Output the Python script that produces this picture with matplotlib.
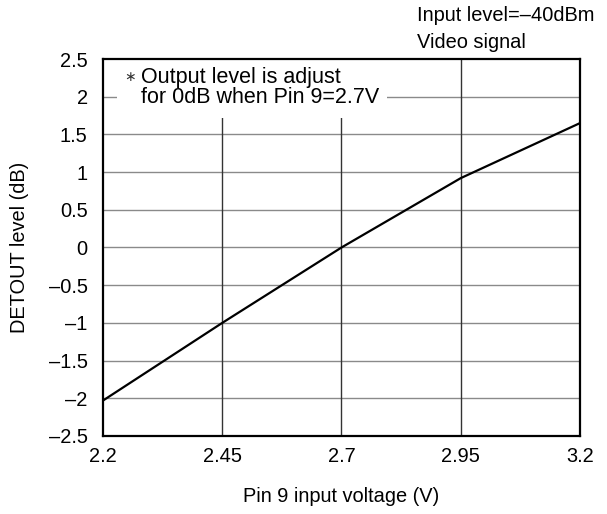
import numpy as np
import matplotlib.pyplot as plt
from matplotlib.patches import Rectangle

plt.rcParams['font.family'] = ['Liberation Sans', 'DejaVu Sans']
plt.rcParams['font.size'] = 14.4

# data
voltage = [2.2, 2.45, 2.7, 2.95, 3.2]
detout = [-2.03, -1.0, 0.0, 0.92, 1.65]

x_ticks = [2.2, 2.45, 2.7, 2.95, 3.2]
x_labels = ['2.2', '2.45', '2.7', '2.95', '3.2']
y_ticks = [2.5, 2, 1.5, 1, 0.5, 0, -0.5, -1, -1.5, -2, -2.5]
y_labels = ['2.5', '2', '1.5', '1', '0.5', '0', '–0.5', '–1', '–1.5', '–2', '–2.5']

fig = plt.figure(figsize=(6.07, 5.14), dpi=100)
ax = fig.add_axes([0.1697, 0.1518, 0.7858, 0.7334])

# grid
for y in y_ticks[1:-1]:
    ax.axhline(y, color='#8a8a8a', lw=1.0, zorder=1)
for x in x_ticks[1:-1]:
    ax.axvline(x, color='#333333', lw=1.0, zorder=1)

ax.plot(voltage, detout, color='black', lw=1.6, zorder=3)

ax.set_xlim(2.2, 3.2)
ax.set_ylim(-2.5, 2.5)
ax.set_xticks(x_ticks)
ax.set_xticklabels(x_labels)
ax.set_yticks(y_ticks)
ax.set_yticklabels(y_labels)
ax.tick_params(axis='y', direction='in', length=0, pad=11)
ax.tick_params(axis='x', direction='in', length=0, pad=8)
for s in ax.spines.values():
    s.set_linewidth(1.6)
    s.set_zorder(4)

ax.set_xlabel('Pin 9 input voltage (V)', labelpad=15)
ax.set_ylabel('DETOUT level (dB)', labelpad=14)

# white patch behind the note, cutting the grid
ax.add_patch(Rectangle((0.029, 0.843), 0.566, 0.157, transform=ax.transAxes,
                       facecolor='white', edgecolor='none', zorder=2))
ax.text(0.044, 0.952, '∗', transform=ax.transAxes, ha='left', va='center',
        fontsize=10, color='#333333', zorder=3)
ax.text(0.080, 0.950, 'Output level is adjust', transform=ax.transAxes,
        ha='left', va='center', fontsize=15.5, zorder=3)
ax.text(0.080, 0.899, 'for 0dB when Pin 9=2.7V', transform=ax.transAxes,
        ha='left', va='center', fontsize=15.5, zorder=3)

fig.text(0.687, 0.988, 'Input level=–40dBm', ha='left', va='top')
fig.text(0.687, 0.936, 'Video signal', ha='left', va='top')

plt.savefig('out.png', dpi=100)
